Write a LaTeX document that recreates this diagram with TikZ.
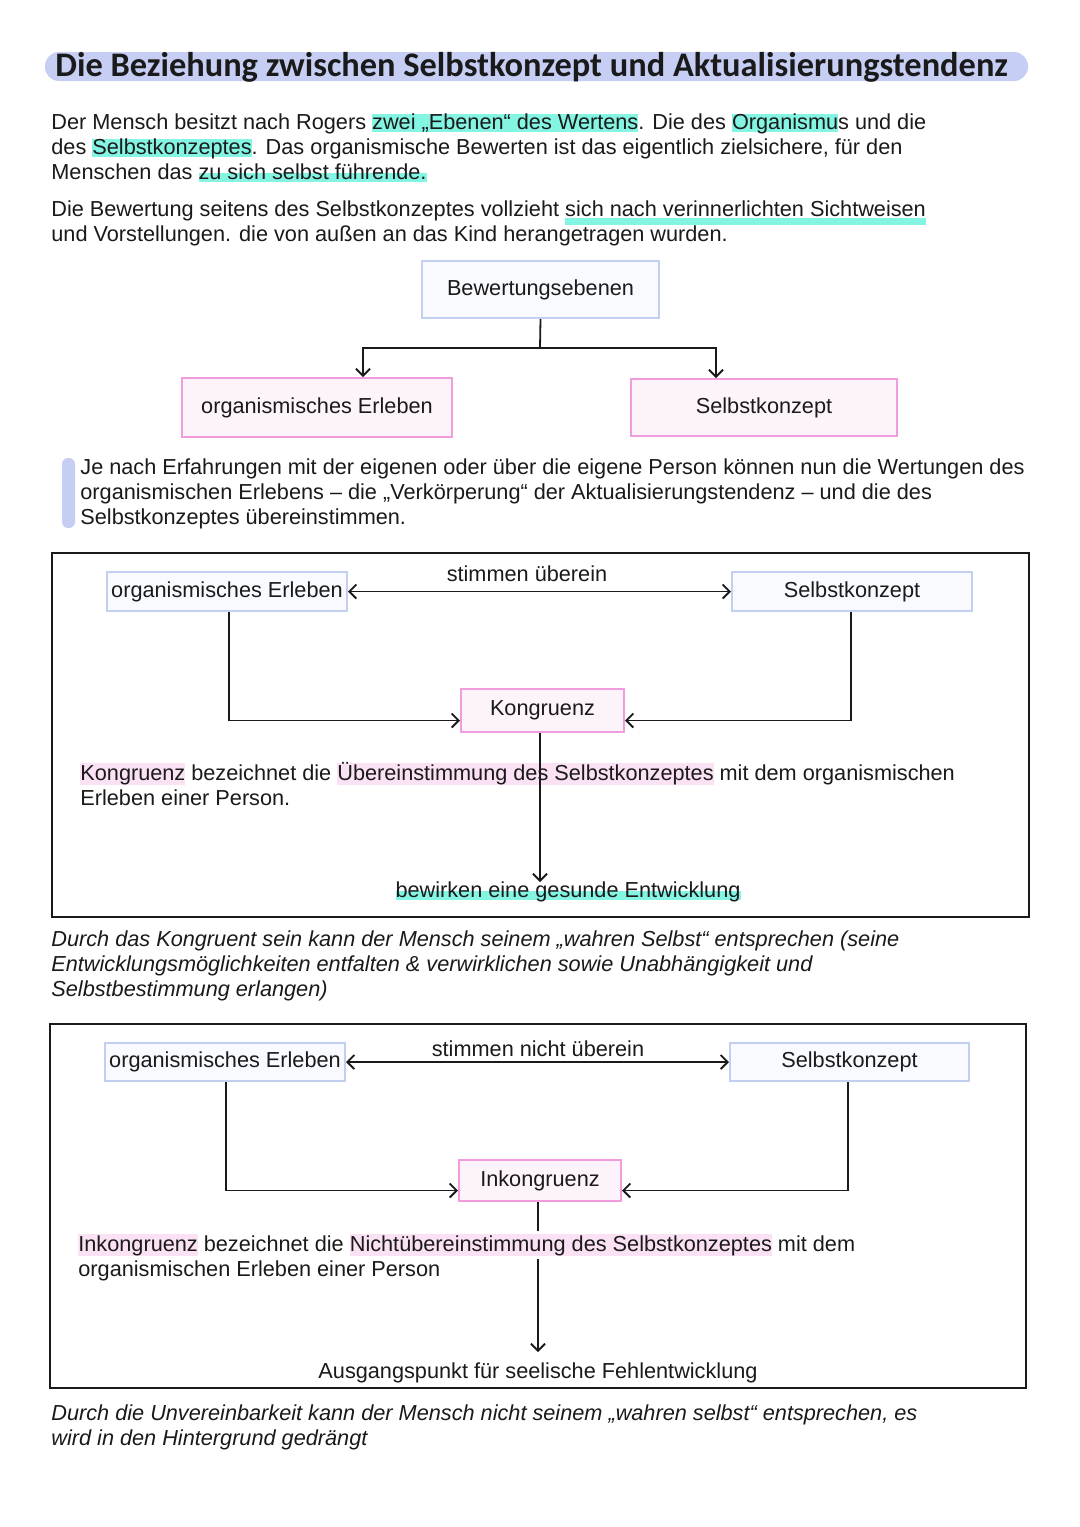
\documentclass[tikz,border=0pt]{standalone}
\usepackage{fontspec}
\setmainfont{Liberation Sans}
\newfontfamily\titlefont{Carlito}
\usetikzlibrary{arrows.meta,calc}
\definecolor{cyanhl}{HTML}{84F4E3}
\definecolor{pinkhl}{HTML}{FBE1F4}
\definecolor{pinkbd}{HTML}{F09CDD}
\definecolor{pinkfill}{HTML}{FDF3FB}
\definecolor{bluebd}{HTML}{C3CFF0}
\definecolor{bluefill}{HTML}{F8FAFF}
\definecolor{lav}{HTML}{C6CEF4}
\definecolor{ink}{HTML}{1A1A1A}
\newcommand\hlc[1]{\setbox0\hbox{#1}\rlap{\color{cyanhl}\rule[-0.25ex]{\wd0}{1.6ex}}\box0\relax}
\newcommand\hll[1]{\setbox0\hbox{#1}\rlap{\color{cyanhl}\rule[-0.3ex]{\wd0}{0.8ex}}\box0\relax}
\newcommand\ulc[1]{\setbox0\hbox{#1}\rlap{\color{cyanhl}\rule[-0.8ex]{\wd0}{0.6ex}}\box0\relax}
\newcommand\hlp[1]{\setbox0\hbox{#1}\rlap{\color{pinkhl}\rule[-0.4ex]{\wd0}{1.85ex}}\box0\relax}
\newcommand\bodysize{\fontsize{10.85}{12.5}\selectfont}
\tikzset{
  line/.style={anchor=base west, inner sep=0pt},
  cline/.style={anchor=base, inner sep=0pt},
  itline/.style={anchor=base west, inner sep=0pt, font=\bodysize\itshape},
  pinkbox/.style={draw=pinkbd, fill=pinkfill, line width=1pt, inner sep=0pt},
  bluebox/.style={draw=bluebd, fill=bluefill, line width=1pt, inner sep=0pt},
  frame/.style={draw=ink, line width=1.1pt},
  arr/.style={-{Straight Barb[length=3.5pt,width=7pt]}, line width=0.9pt, draw=ink},
  darr/.style={{Straight Barb[length=3.5pt,width=7pt]}-{Straight Barb[length=3.5pt,width=7pt]}, line width=0.9pt, draw=ink},
  plain/.style={line width=0.9pt, draw=ink},
}
\begin{document}
\begin{tikzpicture}[x=0.5pt,y=-0.5pt,font=\bodysize,text=ink]
\useasboundingbox (0,0) rectangle (1080,1527);
\fill[white] (0,0) rectangle (1080,1527);
% title
\fill[lav, rounded corners=7pt] (45,52) rectangle (1028,81);
\node[line, font=\titlefont\bfseries\fontsize{17.2}{19}\selectfont] (title) at (55,76) {Die Beziehung zwischen Selbstkonzept und Aktualisierungstendenz};
% paragraph 1
\node[line] (p1a) at (51,129) {Der Mensch besitzt nach Rogers \hlc{zwei „Ebenen“ des Wertens}. Die des \hlc{Organismu}s und die};
\node[line] (p1b) at (51,154) {des \hlc{Selbstkonzeptes}. Das organismische Bewerten ist das eigentlich zielsichere, für den};
\node[line] (p1c) at (51,179) {Menschen das \hll{zu sich selbst führende.}};
\node[line] (p2a) at (51,216) {Die Bewertung seitens des Selbstkonzeptes vollzieht \ulc{sich nach verinnerlichten Sichtweisen}};
\node[line] (p2b) at (51,241) {und Vorstellungen. die von außen an das Kind herangetragen wurden.};
% tree
\node[bluebox, minimum width=118.5pt, minimum height=28.5pt] (bew) at (540.5,289.5) {Bewertungsebenen\hspace{7pt}};
\node[pinkbox, minimum width=135pt, minimum height=29.5pt] (org) at (317,407.5) {organismisches Erleben\hspace{5pt}};
\node[pinkbox, minimum width=133pt, minimum height=28.5pt] (selbst) at (764,407.5) {Selbstkonzept};
\coordinate (split) at (540,348);
\draw[plain] (bew.south) -- (split);
\draw[arr] (split) -| (363,0 |- org.north);
\draw[arr] (split) -| (716,0 |- selbst.north);
% quote
\fill[lav, rounded corners=3pt] (62,458) rectangle (75,528);
\node[line] (q1) at (80,474) {Je nach Erfahrungen mit der eigenen oder über die eigene Person können nun die Wertungen des};
\node[line] (q2) at (80,499) {organismischen Erlebens – die „Verkörperung“ der Aktualisierungstendenz – und die des};
\node[line] (q3) at (80,524) {Selbstkonzeptes übereinstimmen.};
% box 1
\draw[frame] (52,553) rectangle (1029,917);
\node[bluebox, minimum width=120pt, minimum height=19.5pt] (orgA) at (227,591.5) {organismisches Erleben};
\node[bluebox, minimum width=120pt, minimum height=19.5pt] (selbstA) at (852,591.5) {Selbstkonzept};
\node[cline] (uebA) at (527,581) {stimmen überein};
\node[pinkbox, minimum width=81.5pt, minimum height=21.5pt] (kon) at (542.5,710.5) {Kongruenz};
\draw[darr] (orgA.east) -- (selbstA.west);
\draw[arr] (229,0 |- orgA.south) |- ($(kon.west)+(0,10)$);
\draw[arr] (851,0 |- selbstA.south) |- ($(kon.east)+(0,10)$);
\node[line] (kA1) at (80,780) {\hlp{Kongruenz} bezeichnet die \hlp{Übereinstimmung des Selbstkonzeptes} mit dem organismischen};
\node[line] (kA2) at (80,805) {Erleben einer Person.};
\node[cline] (gesund) at (568,897) {\hll{bewirken eine gesunde Entwicklung}};
\coordinate (gesundtop) at (540,882);
\draw[arr] (540,0 |- kon.south) -- (gesundtop);
\node[itline] (iA1) at (51,946) {Durch das Kongruent sein kann der Mensch seinem „wahren Selbst“ entsprechen (seine};
\node[itline] (iA2) at (51,971) {Entwicklungsmöglichkeiten entfalten \& verwirklichen sowie Unabhängigkeit und};
\node[itline] (iA3) at (51,996) {Selbstbestimmung erlangen)};
% box 2
\draw[frame] (50,1024) rectangle (1026,1388);
\node[bluebox, minimum width=120pt, minimum height=19pt] (orgB) at (225,1062) {organismisches Erleben};
\node[bluebox, minimum width=119.5pt, minimum height=19pt] (selbstB) at (849.5,1062) {Selbstkonzept};
\node[cline] (uebB) at (538,1056) {stimmen nicht überein};
\node[pinkbox, minimum width=81pt, minimum height=20.5pt] (inkon) at (540,1180.5) {Inkongruenz};
\draw[darr] (orgB.east) -- (selbstB.west);
\draw[arr] (226,0 |- orgB.south) |- ($(inkon.west)+(0,10)$);
\draw[arr] (848,0 |- selbstB.south) |- ($(inkon.east)+(0,10)$);
\coordinate (fehltop) at (538,1352);
\draw[arr] (538,0 |- inkon.south) -- (fehltop);
\node[line, fill=white, inner ysep=1.5pt] (kB1) at (78,1251) {\hlp{Inkongruenz} bezeichnet die \hlp{Nichtübereinstimmung des Selbstkonzeptes} mit dem};
\node[line] (kB2) at (78,1276) {organismischen Erleben einer Person};
\node[cline] (fehl) at (538,1378) {Ausgangspunkt für seelische Fehlentwicklung};
\node[itline] (iB1) at (51,1420) {Durch die Unvereinbarkeit kann der Mensch nicht seinem „wahren selbst“ entsprechen, es};
\node[itline] (iB2) at (51,1445) {wird in den Hintergrund gedrängt};
\end{tikzpicture}
\end{document}
